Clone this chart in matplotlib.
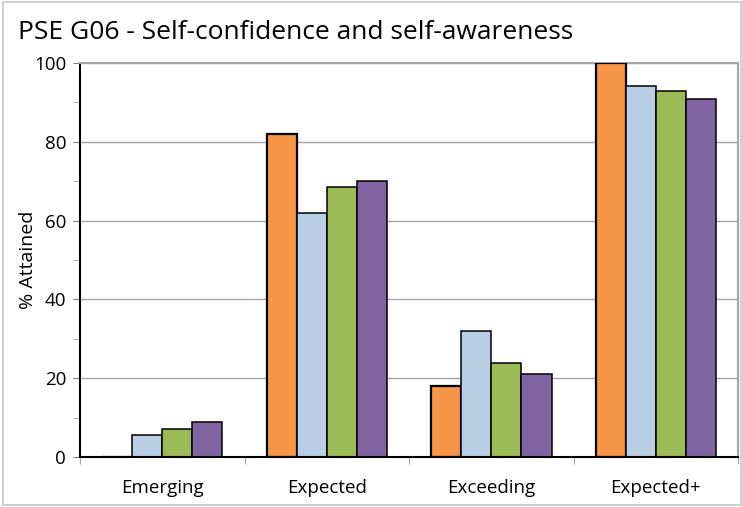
import numpy as np
import matplotlib.pyplot as plt
from matplotlib.patches import Rectangle
from matplotlib.ticker import MultipleLocator

plt.rcParams['font.family'] = ['Open Sans', 'DejaVu Sans']

categories = ['Emerging', 'Expected', 'Exceeding', 'Expected+']
series_a = [0.0, 82.1, 17.9, 100.0]
series_b = [5.7, 62.0, 32.0, 94.2]
series_c = [7.1, 68.6, 23.8, 92.8]
series_d = [9.0, 70.0, 21.0, 91.0]

colors = ['#f79646', '#b9cde5', '#9bbb59', '#8064a2']
all_series = [series_a, series_b, series_c, series_d]

fig = plt.figure(figsize=(7.42, 5.07), dpi=100)
ax = fig.add_axes([0.1078, 0.0986, 0.887, 0.777])

x = np.arange(len(categories))
w = 0.183
for i, (vals, col) in enumerate(zip(all_series, colors)):
    lw = 1.6 if i == 0 else 1.1
    ax.bar(x + (i - 1.5) * w, vals, w, color=col, edgecolor='black',
           linewidth=lw, zorder=3)

ax.set_xlim(-0.5, len(categories) - 0.5)
ax.set_ylim(0, 100)
ax.yaxis.set_major_locator(MultipleLocator(20))
ax.yaxis.set_minor_locator(MultipleLocator(10))
ax.grid(axis='y', which='major', color='#a6a6a6', linewidth=1, zorder=0)

ax.set_xticks(np.arange(-0.5, len(categories), 1.0))
ax.set_xticks(x, minor=True)
ax.set_xticklabels([])
ax.set_xticklabels(categories, minor=True)
ax.tick_params(axis='x', which='major', length=5, color='#a6a6a6', direction='out')
ax.tick_params(axis='x', which='minor', length=0, labelsize=13.5, pad=16)
ax.tick_params(axis='y', which='major', length=5, color='#808080', labelsize=13.5, pad=5)
ax.tick_params(axis='y', which='minor', length=5, color='#a6a6a6')

for s in ['top', 'right']:
    ax.spines[s].set_color('#a6a6a6')
    ax.spines[s].set_linewidth(1.5)
ax.spines['left'].set_color('black')
ax.spines['left'].set_linewidth(1.5)
ax.spines['bottom'].set_color('black')
ax.spines['bottom'].set_linewidth(1.5)
ax.spines['bottom'].set_zorder(4)

ax.set_ylabel('% Attained', fontsize=14)
ax.yaxis.set_label_coords(-0.066, 0.5)
fig.text(0.024, 0.935, 'PSE G06 - Self-confidence and self-awareness',
         fontsize=19, ha='left', va='center')

fig.patches.append(Rectangle((0.004, 0.004), 0.994, 0.992, transform=fig.transFigure,
                             fill=False, edgecolor='#c8c8c8', linewidth=1.2))

fig.savefig('out.png', dpi=100)
